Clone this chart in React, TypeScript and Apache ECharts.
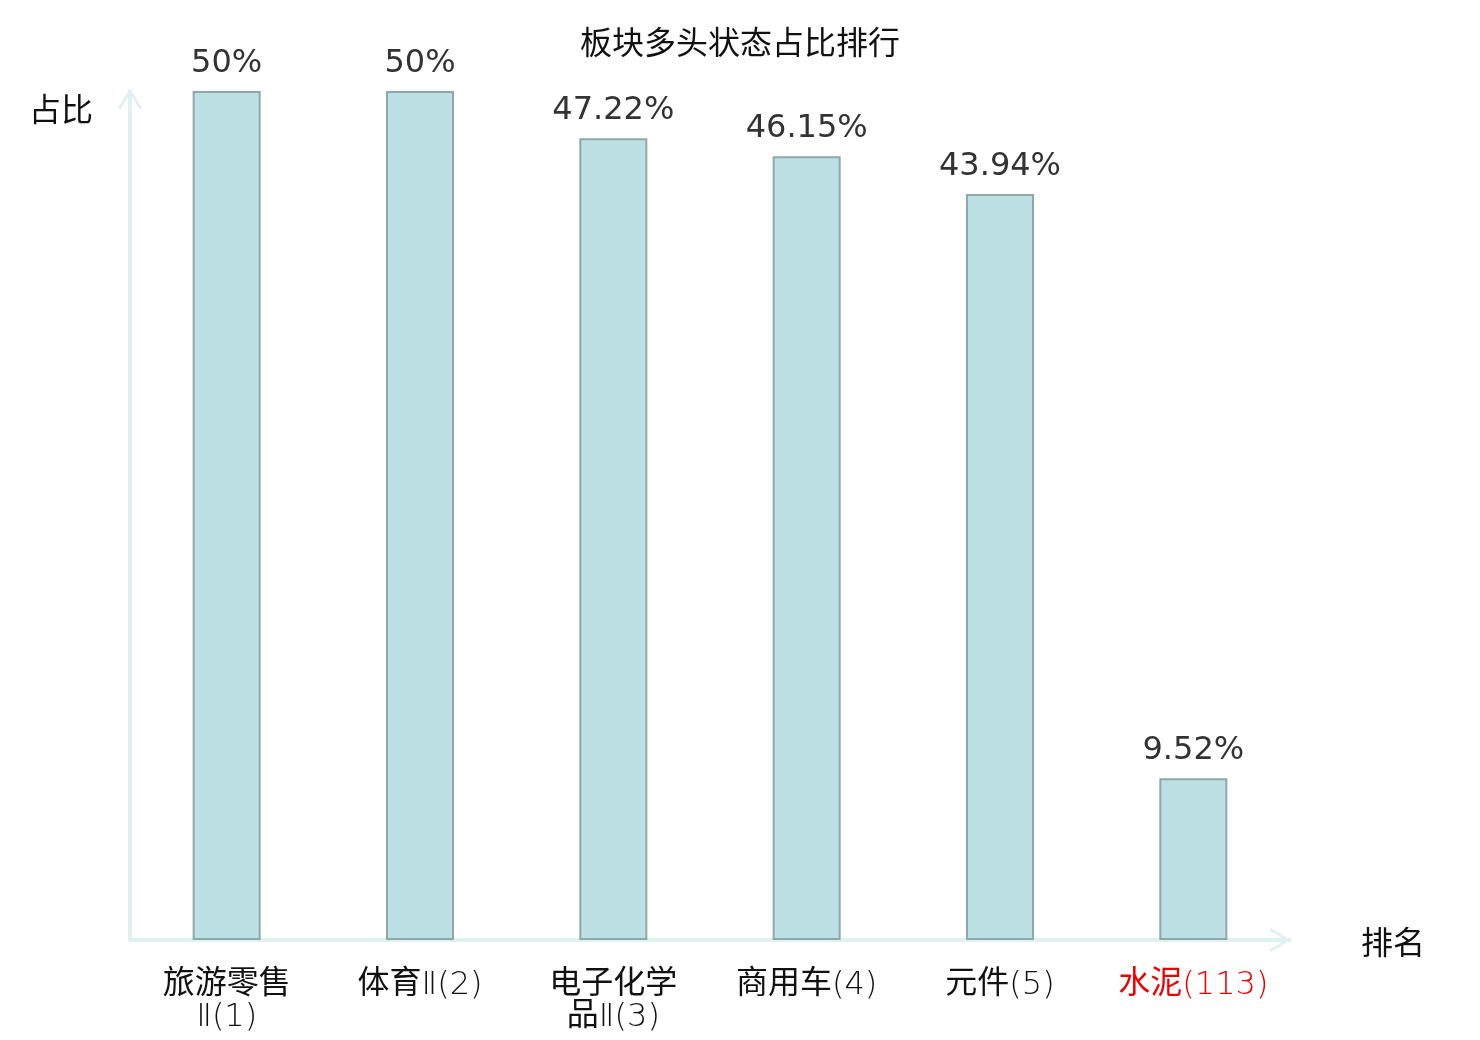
import React, { useEffect, useRef } from "react";
import * as echarts from "echarts";

const categories = ["旅游零售Ⅱ(1)", "体育Ⅱ(2)", "电子化学品Ⅱ(3)", "商用车(4)", "元件(5)", "水泥(113)"];
const values = [50, 50, 47.22, 46.15, 43.94, 9.52];
const highlightIndex = 5;
const titleText = "板块多头状态占比排行";
const yName = "占比";
const xName = "排名";

const chevron = "path://M0,19.5 L12,0 L24,19.5 L21.6,21 L12,5.2 L2.4,21 Z";

function wrapName(name: string): string {
  const p = name.indexOf("(");
  const head = p >= 0 ? name.slice(0, p) : name;
  if (head.length > 4) return name.slice(0, 4) + "\n" + name.slice(4);
  return name;
}

function richLine(s: string, red: boolean): string {
  let out = "";
  let buf = "";
  let cur: boolean | null = null;
  const flush = () => {
    if (!buf) return;
    const key = (red ? "r" : "n") + (cur ? "c" : "l");
    out += `{${key}|${buf}}`;
    buf = "";
  };
  for (const ch of s) {
    const isCjk = ch.charCodeAt(0) >= 0x2e80;
    if (cur !== null && isCjk !== cur) flush();
    cur = isCjk;
    buf += ch;
  }
  flush();
  return out;
}

export default function App() {
  const ref = useRef<HTMLDivElement>(null);
  useEffect(() => {
    if (!ref.current) return;
    const chart = echarts.init(ref.current, undefined, { renderer: "svg" });
    const cjk = "'Noto Sans CJK SC', sans-serif";
    const latin = "'DejaVu Sans', 'Noto Sans CJK SC', sans-serif";
    const base = { fontSize: 32, lineHeight: 32 };
    const cjkShift = [0, 0, 8, 0];
    chart.setOption({
      animation: false,
      title: {
        text: titleText,
        left: "center",
        top: 19,
        textStyle: { fontSize: 32, fontWeight: "normal", color: "#111", fontFamily: cjk },
      },
      grid: { left: 130, right: 190, top: 91, bottom: 100, containLabel: false },
      xAxis: {
        type: "category",
        data: categories,
        name: xName,
        nameLocation: "end",
        nameGap: 71,
        nameTextStyle: { fontSize: 32, color: "#111", fontFamily: cjk, verticalAlign: "middle" },
        axisLine: {
          show: true,
          lineStyle: { color: "#dff2f0", width: 4 },
          symbol: ["none", chevron],
          symbolSize: [24, 22],
          symbolOffset: [0, -10],
        },
        axisTick: { show: false },
        axisLabel: {
          interval: 0,
          margin: 27,
          fontFamily: cjk,
          fontSize: 32,
          lineHeight: 32,
          formatter: (v: string, i: number) =>
            wrapName(v)
              .split("\n")
              .map((s) => richLine(s, i === highlightIndex))
              .join("\n"),
          rich: {
            nc: { ...base, color: "#111", fontFamily: cjk, fontWeight: "normal", padding: cjkShift },
            nl: { ...base, color: "#111", fontFamily: latin, fontWeight: 200 },
            rc: { ...base, color: "#ee0000", fontFamily: cjk, fontWeight: "normal", padding: cjkShift },
            rl: { ...base, color: "#ee0000", fontFamily: latin, fontWeight: 200 },
          },
        },
      },
      yAxis: {
        type: "value",
        min: 0,
        max: 50,
        name: yName,
        nameLocation: "end",
        nameGap: -16,
        nameTextStyle: {
          fontSize: 32,
          color: "#111",
          fontFamily: cjk,
          align: "right",
          verticalAlign: "middle",
          padding: [0, 37, 0, 0],
        },
        axisLine: {
          show: true,
          lineStyle: { color: "#dff2f0", width: 4 },
          symbol: ["none", chevron],
          symbolSize: [24, 22],
          symbolOffset: [0, -8],
        },
        axisTick: { show: false },
        axisLabel: { show: false },
        splitLine: { show: false },
      },
      series: [
        {
          type: "bar",
          data: values,
          barWidth: 68,
          itemStyle: { color: "#bce0e3", borderColor: "#8ea8a9", borderWidth: 2 },
          label: {
            show: true,
            position: "top",
            distance: 14,
            fontSize: 32,
            color: "#333",
            fontFamily: "'DejaVu Sans', sans-serif",
            formatter: (p: any) => `${p.value}%`,
          },
        },
      ],
    });
    return () => chart.dispose();
  }, []);
  return (
    <div
      ref={ref}
      style={{ position: "fixed", left: 0, top: 0, width: 1480, height: 1040 }}
    />
  );
}
